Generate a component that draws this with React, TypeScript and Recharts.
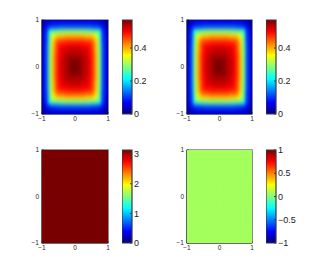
import React from "react";
import { ScatterChart, Scatter, XAxis, YAxis, BarChart, Bar, ReferenceArea } from "recharts";

// shared axis ticks of the four panels
const axisTicks = [-1, 0, 1];

// top panels: field values on a 20x20 grid, rows from y = 1 down to y = -1, columns from x = -1 to 1
const fieldGrid = [
  [0.02, 0.03, 0.04, 0.05, 0.05, 0.05, 0.05, 0.05, 0.05, 0.05, 0.05, 0.05, 0.05, 0.05, 0.05, 0.05, 0.05, 0.04, 0.03, 0.02],
  [0.03, 0.08, 0.10, 0.11, 0.11, 0.12, 0.12, 0.12, 0.12, 0.12, 0.12, 0.12, 0.12, 0.12, 0.12, 0.11, 0.11, 0.10, 0.08, 0.03],
  [0.04, 0.10, 0.24, 0.26, 0.27, 0.28, 0.28, 0.29, 0.29, 0.29, 0.29, 0.29, 0.29, 0.28, 0.28, 0.27, 0.26, 0.24, 0.10, 0.04],
  [0.05, 0.11, 0.26, 0.36, 0.38, 0.39, 0.39, 0.40, 0.40, 0.40, 0.40, 0.40, 0.40, 0.39, 0.39, 0.38, 0.36, 0.26, 0.11, 0.05],
  [0.05, 0.11, 0.27, 0.38, 0.44, 0.46, 0.46, 0.47, 0.47, 0.47, 0.47, 0.47, 0.47, 0.46, 0.46, 0.44, 0.38, 0.27, 0.11, 0.05],
  [0.05, 0.12, 0.28, 0.39, 0.46, 0.49, 0.50, 0.50, 0.51, 0.51, 0.51, 0.51, 0.50, 0.50, 0.49, 0.46, 0.39, 0.28, 0.12, 0.05],
  [0.05, 0.12, 0.28, 0.39, 0.46, 0.50, 0.52, 0.52, 0.53, 0.53, 0.53, 0.53, 0.52, 0.52, 0.50, 0.46, 0.39, 0.28, 0.12, 0.05],
  [0.05, 0.12, 0.29, 0.40, 0.47, 0.50, 0.52, 0.54, 0.54, 0.54, 0.54, 0.54, 0.54, 0.52, 0.50, 0.47, 0.40, 0.29, 0.12, 0.05],
  [0.05, 0.12, 0.29, 0.40, 0.47, 0.51, 0.53, 0.54, 0.56, 0.56, 0.56, 0.56, 0.54, 0.53, 0.51, 0.47, 0.40, 0.29, 0.12, 0.05],
  [0.05, 0.12, 0.29, 0.40, 0.47, 0.51, 0.53, 0.54, 0.56, 0.57, 0.57, 0.56, 0.54, 0.53, 0.51, 0.47, 0.40, 0.29, 0.12, 0.05],
  [0.05, 0.12, 0.29, 0.40, 0.47, 0.51, 0.53, 0.54, 0.56, 0.57, 0.57, 0.56, 0.54, 0.53, 0.51, 0.47, 0.40, 0.29, 0.12, 0.05],
  [0.05, 0.12, 0.29, 0.40, 0.47, 0.51, 0.53, 0.54, 0.56, 0.56, 0.56, 0.56, 0.54, 0.53, 0.51, 0.47, 0.40, 0.29, 0.12, 0.05],
  [0.05, 0.12, 0.29, 0.40, 0.47, 0.50, 0.52, 0.54, 0.54, 0.54, 0.54, 0.54, 0.54, 0.52, 0.50, 0.47, 0.40, 0.29, 0.12, 0.05],
  [0.05, 0.12, 0.28, 0.39, 0.46, 0.50, 0.52, 0.52, 0.53, 0.53, 0.53, 0.53, 0.52, 0.52, 0.50, 0.46, 0.39, 0.28, 0.12, 0.05],
  [0.05, 0.12, 0.28, 0.39, 0.46, 0.49, 0.50, 0.50, 0.51, 0.51, 0.51, 0.51, 0.50, 0.50, 0.49, 0.46, 0.39, 0.28, 0.12, 0.05],
  [0.05, 0.11, 0.27, 0.38, 0.44, 0.46, 0.46, 0.47, 0.47, 0.47, 0.47, 0.47, 0.47, 0.46, 0.46, 0.44, 0.38, 0.27, 0.11, 0.05],
  [0.05, 0.11, 0.26, 0.36, 0.38, 0.39, 0.39, 0.40, 0.40, 0.40, 0.40, 0.40, 0.40, 0.39, 0.39, 0.38, 0.36, 0.26, 0.11, 0.05],
  [0.04, 0.10, 0.24, 0.26, 0.27, 0.28, 0.28, 0.29, 0.29, 0.29, 0.29, 0.29, 0.29, 0.28, 0.28, 0.27, 0.26, 0.24, 0.10, 0.04],
  [0.03, 0.08, 0.10, 0.11, 0.11, 0.12, 0.12, 0.12, 0.12, 0.12, 0.12, 0.12, 0.12, 0.12, 0.12, 0.11, 0.11, 0.10, 0.08, 0.03],
  [0.02, 0.03, 0.04, 0.05, 0.05, 0.05, 0.05, 0.05, 0.05, 0.05, 0.05, 0.05, 0.05, 0.05, 0.05, 0.05, 0.05, 0.04, 0.03, 0.02],
];
const fieldRange = [0, 0.57];
const fieldTicks = [0, 0.2, 0.4];

// bottom left: constant field
const phaseGrid = [[3.14]];
const phaseRange = [0, 3.14];
const phaseTicks = [0, 1, 2, 3];

// bottom right: constant field
const imagGrid = [[0.07]];
const imagRange = [-1, 1];
const imagTicks = [-1, -0.5, 0, 0.5, 1];

const JET: [number, number[]][] = [
  [0, [0, 0, 0.5]],
  [0.125, [0, 0, 1]],
  [0.375, [0, 1, 1]],
  [0.625, [1, 1, 0]],
  [0.875, [1, 0, 0]],
  [1, [0.47, 0, 0]],
];

const FRAME = "#3a3a3a";
const INK = "#1a1a1a";

function rgb(c: number[]) {
  return `rgb(${Math.round(c[0] * 255)},${Math.round(c[1] * 255)},${Math.round(c[2] * 255)})`;
}

function jet(t: number) {
  const f = Math.max(0, Math.min(1, t));
  for (let k = 1; k < JET.length; k++) {
    const [t1, c1] = JET[k];
    const [t0, c0] = JET[k - 1];
    if (f <= t1) {
      const a = (f - t0) / (t1 - t0);
      return rgb(c0.map((v, i) => v + (c1[i] - v) * a));
    }
  }
  return rgb(JET[JET.length - 1][1]);
}

const fmt = (v: number) => (v < 0 ? "\u2212" + Math.abs(v) : String(v));

const PAD_L = 42;
const PAD_T = 20;
const AX_H = 16;
const PAD_R = 8;

interface HeatProps {
  id: string;
  grid: number[][];
  range: number[];
  left: number;
  top: number;
  width: number;
  height: number;
}

function Heatmap({ id, grid, range, left, top, width, height }: HeatProps) {
  const nr = grid.length;
  const nc = grid[0].length;
  const cells = grid.flatMap((row, i) =>
    row.map((v, j) => ({ x: -1 + (2 * j + 1) / nc, y: 1 - (2 * i + 1) / nr, v }))
  );
  const cw = width / nc + 0.6;
  const ch = height / nr + 0.6;
  const [lo, hi] = range;
  const tickStyle = { fontSize: 6.5, fill: INK };

  return (
    <div id={id} style={{ position: "absolute", left: left - PAD_L, top: top - PAD_T }}>
      <style>{`#${id} .recharts-scatter { filter: url(#${id}-blur); clip-path: url(#${id}-clip); }`}</style>
      <ScatterChart
        width={PAD_L + width + PAD_R}
        height={PAD_T + height + AX_H}
        margin={{ top: PAD_T, right: PAD_R, bottom: 0, left: 0 }}
      >
        <defs>
          <filter id={`${id}-blur`} colorInterpolationFilters="sRGB">
            <feGaussianBlur stdDeviation={`${(width / nc) * 0.5} ${(height / nr) * 0.5}`} />
            <feComponentTransfer>
              <feFuncA type="linear" slope="30" intercept="0" />
            </feComponentTransfer>
          </filter>
          <clipPath id={`${id}-clip`}>
            <rect x={PAD_L} y={PAD_T} width={width} height={height} />
          </clipPath>
        </defs>
        <XAxis
          type="number"
          dataKey="x"
          domain={[-1, 1]}
          ticks={axisTicks}
          interval={0}
          height={AX_H}
          tickSize={-2}
          tickMargin={4}
          tick={tickStyle}
          tickFormatter={fmt}
          stroke={FRAME}
        />
        <YAxis
          type="number"
          dataKey="y"
          domain={[-1, 1]}
          ticks={axisTicks}
          interval={0}
          width={PAD_L}
          tickSize={-2}
          tickMargin={5}
          tick={tickStyle}
          tickFormatter={fmt}
          stroke={FRAME}
        />
        <Scatter
          data={cells}
          className="heat"
          isAnimationActive={false}
          shape={(p: any) => (
            <rect
              x={p.cx - cw / 2}
              y={p.cy - ch / 2}
              width={cw}
              height={ch}
              fill={jet((p.payload.v - lo) / (hi - lo))}
            />
          )}
        />
        <ReferenceArea
          x1={-1}
          x2={1}
          y1={-1}
          y2={1}
          fill="none"
          fillOpacity={0}
          stroke={FRAME}
          strokeWidth={1.2}
          strokeOpacity={1}
          ifOverflow="visible"
        />
      </ScatterChart>
    </div>
  );
}

interface BarProps {
  id: string;
  range: number[];
  ticks: number[];
  left: number;
  top: number;
  width: number;
  height: number;
}

function Colorbar({ id, range, ticks, left, top, width, height }: BarProps) {
  const axisW = 30;
  return (
    <div style={{ position: "absolute", left, top: top - PAD_T }}>
      <BarChart
        width={width + axisW}
        height={PAD_T + height + 8}
        data={[{ name: "c", span: range }]}
        margin={{ top: PAD_T, right: 0, bottom: 8, left: 0 }}
        barCategoryGap={0}
      >
        <defs>
          <linearGradient id={`${id}-jet`} x1="0" y1="1" x2="0" y2="0">
            {JET.map(([t, c]) => (
              <stop key={t} offset={t} stopColor={rgb(c)} />
            ))}
          </linearGradient>
        </defs>
        <XAxis dataKey="name" hide />
        <YAxis
          orientation="right"
          type="number"
          domain={range}
          ticks={ticks}
          interval={0}
          width={axisW}
          axisLine={false}
          tickSize={-2}
          tickMargin={4}
          tick={{ fontSize: 9, fill: INK }}
          tickFormatter={fmt}
          stroke={FRAME}
        />
        <Bar dataKey="span" fill={`url(#${id}-jet)`} stroke={FRAME} strokeWidth={1.2} isAnimationActive={false} />
      </BarChart>
    </div>
  );
}

export default function App() {
  return (
    <div
      style={{
        position: "fixed",
        left: 0,
        top: 0,
        width: 327,
        height: 273,
        background: "#fff",
        fontFamily: '"Liberation Sans", Arial, sans-serif',
        overflow: "hidden",
      }}
    >
      <Heatmap id="hmA" grid={fieldGrid} range={fieldRange} left={42} top={20} width={66} height={94} />
      <Colorbar id="cbA" range={fieldRange} ticks={fieldTicks} left={122} top={20} width={10} height={94} />
      <Heatmap id="hmB" grid={fieldGrid} range={fieldRange} left={187} top={20} width={65} height={94} />
      <Colorbar id="cbB" range={fieldRange} ticks={fieldTicks} left={266} top={20} width={10} height={94} />
      <Heatmap id="hmC" grid={phaseGrid} range={phaseRange} left={42} top={150} width={66} height={93} />
      <Colorbar id="cbC" range={phaseRange} ticks={phaseTicks} left={122} top={150} width={10} height={93} />
      <Heatmap id="hmD" grid={imagGrid} range={imagRange} left={187} top={150} width={65} height={93} />
      <Colorbar id="cbD" range={imagRange} ticks={imagTicks} left={266} top={150} width={10} height={93} />
    </div>
  );
}
